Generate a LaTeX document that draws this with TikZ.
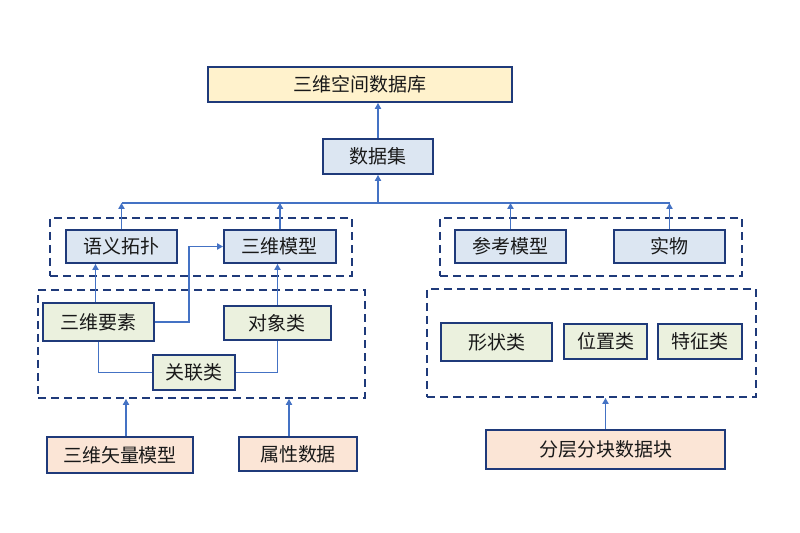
\documentclass[tikz,border=0pt]{standalone}
\usepackage{fontspec}
\setmainfont{Noto Sans CJK SC}
\usetikzlibrary{arrows.meta}
\definecolor{navy}{HTML}{1F3A7A}
\definecolor{conn}{HTML}{4472C4}
\definecolor{fyel}{HTML}{FFF2CC}
\definecolor{fblu}{HTML}{DCE6F2}
\definecolor{fgrn}{HTML}{EBF1DE}
\definecolor{fpch}{HTML}{FBE5D6}
\tikzset{
  box/.style={draw=navy, line width=1pt, inner sep=0pt, font=\fontsize{9.5}{11}\selectfont, text=black!90},
  group/.style={draw=navy, line width=1pt, dash pattern=on 4pt off 2.5pt, inner sep=0pt},
  link/.style={draw=conn, line width=0.55pt},
  arr/.style={link, -{Triangle[length=3pt,width=3.2pt]}},
}
\begin{document}
\begin{tikzpicture}[x=0.5pt,y=-0.5pt]
\useasboundingbox (0,0) rectangle (800,533);
% groups
\node[group, minimum width=151pt, minimum height=29pt] (g1) at (201,247) {};
\node[group, minimum width=163.5pt, minimum height=54pt] (g2) at (201.5,344) {};
\node[group, minimum width=151pt, minimum height=29pt] (g3) at (591,247) {};
\node[group, minimum width=164.5pt, minimum height=54pt] (g4) at (591.5,343) {};
% boxes
\node[box, fill=fyel, minimum width=152pt, minimum height=17.5pt] (top) at (360,84.5) {三维空间数据库};
\node[box, fill=fblu, minimum width=55pt, minimum height=17.5pt] (ds) at (378,156.5) {数据集};
\node[box, fill=fblu, minimum width=55.5pt, minimum height=16.5pt] (yy) at (121.5,246.5) {语义拓扑};
\node[box, fill=fblu, minimum width=56pt, minimum height=16.5pt] (swmx) at (280,246.5) {三维模型};
\node[box, fill=fblu, minimum width=55.5pt, minimum height=16.5pt] (ckmx) at (510.5,246.5) {参考模型};
\node[box, fill=fblu, minimum width=55.5pt, minimum height=16.5pt] (sw) at (669.5,246.5) {实物};
\node[box, fill=fgrn, minimum width=55.5pt, minimum height=19pt] (swys) at (98.5,322) {三维要素};
\node[box, fill=fgrn, minimum width=53.5pt, minimum height=17pt] (dxl) at (277.5,323) {对象类};
\node[box, fill=fgrn, minimum width=41pt, minimum height=17.5pt] (gll) at (194,372.5) {关联类};
\node[box, fill=fgrn, minimum width=55.5pt, minimum height=19pt] (xzl) at (496.5,342) {形状类};
\node[box, fill=fgrn, minimum width=41.5pt, minimum height=17.5pt] (wzl) at (605.5,341.5) {位置类};
\node[box, fill=fgrn, minimum width=42pt, minimum height=17.5pt] (tzl) at (700,341.5) {特征类};
\node[box, fill=fpch, minimum width=73pt, minimum height=18pt] (swsl) at (120,455) {三维矢量模型};
\node[box, fill=fpch, minimum width=59pt, minimum height=17pt] (sxsj) at (298,454) {属性数据};
\node[box, fill=fpch, minimum width=119.5pt, minimum height=19.5pt] (fcfk) at (605.5,449.5) {分层分块数据块};
% connectors
\coordinate (bus) at (379,203);
\coordinate (k1) at (189,285);
\draw[arr] (ds.north) -- (top.south -| ds.north);
\draw[link] (yy.north |- bus) -- (sw.north |- bus);
\draw[arr] (ds.south |- bus) -- (ds.south);
\draw[arr] (yy.north) -- (yy.north |- bus);
\draw[arr] (swmx.north) -- (swmx.north |- bus);
\draw[arr] (ckmx.north) -- (ckmx.north |- bus);
\draw[arr] (sw.north) -- (sw.north |- bus);
\draw[arr] ([xshift=-1.5pt]swys.north) -- ([xshift=-1.5pt]swys.north |- yy.south);
\draw[arr] (swys.east) -| (k1) |- (swmx.west);
\draw[arr] (dxl.north) -- (dxl.north |- swmx.south);
\draw[link] (swys.south) |- (gll.west);
\draw[link] (gll.east) -| (dxl.south);
\draw[arr] ([xshift=3pt]swsl.north) -- ([xshift=3pt]swsl.north |- g2.south);
\draw[arr] ([xshift=-4.5pt]sxsj.north) -- ([xshift=-4.5pt]sxsj.north |- g2.south);
\draw[arr] (fcfk.north) -- (fcfk.north |- g4.south);
\end{tikzpicture}
\end{document}
